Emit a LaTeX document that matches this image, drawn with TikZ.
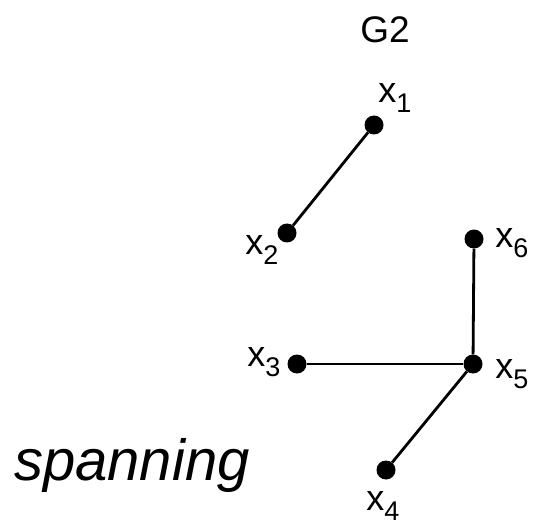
\documentclass[tikz,border=0pt]{standalone}
\usepackage{fontspec}
\setmainfont{Liberation Sans}

\newcommand{\vlab}[1]{x\raisebox{-0.28em}{\fontsize{27}{27}\selectfont #1}}

\begin{document}
\begin{tikzpicture}[x=1pt,y=-1pt,
    vertex/.style={circle,fill=black,inner sep=0pt,minimum size=19pt},
    lbl/.style={font=\fontsize{36}{36}\selectfont,inner sep=0pt},
    edge/.style={line width=2.8pt}]
    \useasboundingbox (0,0) rectangle (535,529);
    % vertices
    \node[vertex] (x1) at (374,125) {};
    \node[vertex] (x2) at (287,233) {};
    \node[vertex] (x6) at (474,239) {};
    \node[vertex] (x3) at (297,364) {};
    \node[vertex] (x5) at (473,364) {};
    \node[vertex] (x4) at (386,470) {};
    % edges
    \draw[edge] (x1) -- (x2);
    \draw[edge] (x6) -- (x5);
    \draw[edge] (x3) -- (x5);
    \draw[edge] (x5) -- (x4);
    % labels
    \node[lbl] (l1) at (395,98) {\vlab{1}};
    \node[lbl] (l2) at (262,250) {\vlab{2}};
    \node[lbl] (l6) at (512,243) {\vlab{6}};
    \node[lbl] (l3) at (264,362) {\vlab{3}};
    \node[lbl] (l5) at (512,374) {\vlab{5}};
    \node[lbl] (l4) at (383,506) {\vlab{4}};
    \node[font=\fontsize{37}{37}\selectfont,inner sep=0pt] (title) at (385,30) {G2};
    \node[font=\fontsize{58}{58}\selectfont\itshape,inner sep=0pt,anchor=base west] (span) at (14,480) {spanning};
\end{tikzpicture}
\end{document}
